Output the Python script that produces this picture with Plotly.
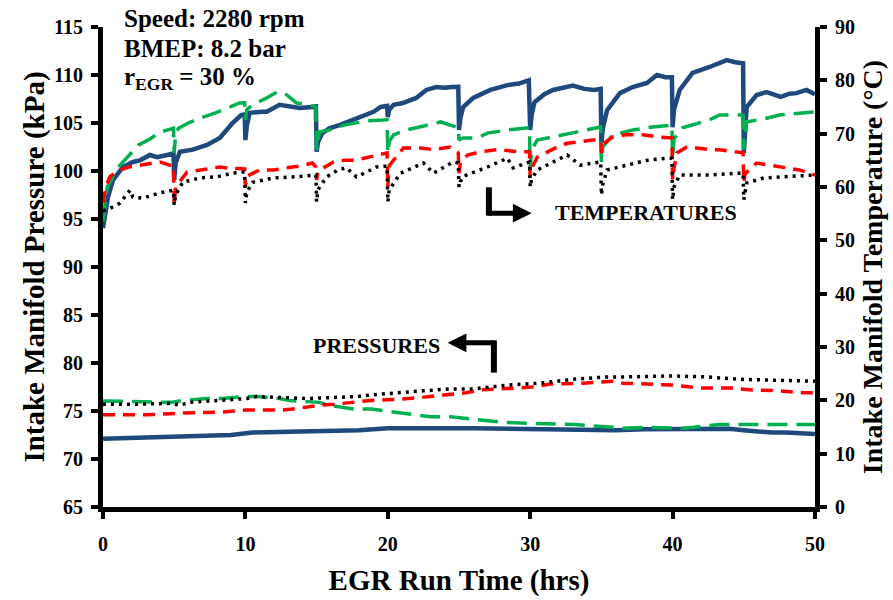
import plotly.graph_objects as go

# ---------------- data ----------------
# Temperatures (right axis, deg C)
temp_blue_x = [0, 0.1, 0.35, 0.7, 1.4, 2.1, 2.6, 3.3, 3.8, 4.5, 4.95, 5.0, 5.1, 5.4, 6.3, 7.3, 8.2, 9.1, 9.7, 9.95,
               10.0, 10.1, 10.3, 11.2, 11.5, 12.4, 13.0, 13.8, 14.7, 14.95, 15.0, 15.1, 15.4, 15.9, 16.6, 17.2, 18.0,
               19.0, 19.5, 19.95, 20.0, 20.1, 20.4, 21.0, 22.0, 22.7, 23.4, 24.0, 24.5, 24.95, 25.0, 25.1, 25.3, 26.0,
               27.2, 28.4, 29.2, 29.9, 30.0, 30.1, 30.3, 31.0, 31.6, 32.4, 33.0, 33.8, 34.5, 34.95, 35.0, 35.1, 35.4,
               36.3, 37.2, 38.2, 38.9, 39.5, 39.95, 40.0, 40.1, 40.5, 41.4, 42.6, 43.2, 43.8, 44.4, 44.95, 45.0, 45.1,
               45.2, 45.9, 46.6, 47.6, 48.2, 48.7, 49.4, 50.0]
temp_blue_y = [52.3, 54.4, 58.1, 61.3, 63.75, 64.7, 65.0, 66.0, 65.6, 66.0, 66.3, 61.3, 64.5, 66.6, 67.0, 67.9, 69.2,
               72.0, 73.5, 73.6, 68.8, 71.5, 73.9, 74.1, 74.1, 75.4, 75.1, 74.8, 75.0, 75.1, 66.6, 68.5, 70.1, 71.0,
               71.6, 72.2, 72.9, 74.1, 75.0, 75.2, 73.1, 74.5, 75.4, 75.7, 76.7, 78.2, 78.75, 78.6, 78.75, 78.8, 70.7,
               73.0, 75.0, 76.7, 78.2, 79.1, 79.4, 80.0, 70.7, 73.5, 75.9, 77.4, 78.2, 78.6, 79.0, 78.4, 78.2, 78.4,
               68.3, 71.0, 74.4, 77.6, 78.75, 79.5, 81.0, 80.6, 80.6, 71.2, 74.5, 78.2, 81.4, 82.5, 83.2, 83.8, 83.4,
               83.2, 66.4, 70.5, 75.0, 77.25, 77.8, 76.9, 77.5, 77.6, 78.2, 77.4]

temp_green_x = [0, 0.3, 1.0, 1.7, 2.5, 3.3, 4.0, 4.95, 5.0, 5.1, 5.3, 6.0, 6.8, 7.9, 8.8, 9.6, 9.95, 10.0, 10.1, 10.5,
                11.5, 12.2, 12.8, 13.6, 14.5, 14.95, 15.0, 15.1, 15.2, 15.9, 16.9, 18.6, 19.5, 19.95, 20.0, 20.1, 20.4,
                21.3, 22.0, 23.7, 24.95, 25.0, 25.1, 25.3, 26.3, 27.0, 28.4, 29.95, 30.0, 30.1, 30.5, 31.6, 32.6,
                34.95, 35.0, 35.1, 35.8, 37.2, 38.6, 39.95, 40.0, 40.1, 40.7, 42.6, 43.3, 44.95, 45.0, 45.1, 45.2,
                46.6, 47.5, 50.0]
temp_green_y = [53.5, 60.0, 63.5, 65.6, 67.9, 69.0, 70.3, 71.0, 66.4, 70.0, 71.0, 72.0, 72.9, 73.9, 74.8, 75.75, 75.8,
                72.6, 74.5, 75.4, 76.7, 77.8, 77.5, 75.75, 75.4, 75.0, 67.0, 69.0, 70.3, 70.7, 71.6, 72.4, 72.6, 72.6,
                66.4, 68.5, 69.75, 70.7, 71.1, 72.2, 71.1, 68.8, 69.0, 69.2, 69.2, 70.1, 70.7, 71.1, 63.2, 67.0, 68.8,
                69.4, 70.1, 71.25, 64.7, 67.5, 69.75, 70.7, 71.25, 71.6, 65.6, 69.0, 71.1, 72.6, 73.5, 73.5, 67.0,
                70.5, 72.2, 72.9, 73.5, 74.1]

temp_red_x = [0, 0.2, 0.5, 1.2, 1.8, 2.6, 3.3, 4.0, 4.7, 4.95, 5.0, 5.1, 5.9, 6.8, 7.5, 8.2, 8.9, 9.95, 10.0, 10.1,
              11.0, 12.0, 12.9, 13.8, 14.7, 14.95, 15.0, 15.1, 16.2, 16.9, 17.7, 18.6, 19.5, 19.95, 20.0, 20.1, 21.1,
              22.3, 23.2, 24.4, 24.95, 25.0, 25.1, 25.6, 26.5, 27.7, 29.3, 29.95, 30.0, 30.1, 30.5, 31.9, 32.6, 34.4,
              34.95, 35.0, 35.1, 35.8, 36.7, 37.9, 38.9, 39.95, 40.0, 40.1, 40.3, 41.0, 41.7, 42.6, 43.3, 44.3, 44.95,
              45.0, 45.1, 45.9, 46.8, 47.8, 48.9, 50.0]
temp_red_y = [57.0, 60.0, 62.0, 63.2, 63.75, 64.1, 64.5, 64.7, 64.1, 64.1, 56.6, 60.0, 62.8, 63.2, 63.5, 63.75, 63.5,
              63.4, 60.0, 62.0, 63.2, 63.2, 63.6, 63.9, 64.5, 63.75, 61.3, 63.0, 64.7, 65.0, 65.0, 65.6, 66.2, 66.4,
              60.0, 64.0, 67.3, 67.3, 67.0, 67.5, 66.4, 62.6, 64.5, 66.0, 66.6, 67.0, 66.6, 66.6, 62.0, 63.5, 65.6,
              67.5, 68.2, 68.8, 68.8, 66.4, 68.0, 69.4, 69.8, 69.8, 69.4, 69.2, 61.3, 63.5, 66.4, 67.5, 67.3, 67.0,
              67.0, 66.6, 66.4, 60.8, 62.5, 64.5, 64.1, 63.6, 63.2, 62.25]

temp_black_x = [0, 0.5, 1.2, 1.9, 2.1, 2.8, 4.0, 4.8, 4.95, 5.0, 5.1, 5.6, 6.8, 8.0, 9.1, 9.8, 9.95, 10.0, 10.1, 10.5,
                12.0, 13.4, 14.7, 14.95, 15.0, 15.1, 15.7, 16.5, 17.1, 17.8, 18.5, 19.2, 19.7, 19.95, 20.0, 20.1, 20.9,
                22.5, 23.2, 24.6, 24.95, 25.0, 25.1, 25.3, 27.0, 28.4, 28.8, 29.8, 29.95, 30.0, 30.1, 30.5, 31.6, 32.6,
                33.5, 34.7, 34.95, 35.0, 35.1, 35.4, 36.7, 38.2, 39.6, 39.95, 40.0, 40.1, 40.5, 42.6, 44.7, 44.95,
                45.0, 45.1, 45.2, 46.4, 48.1, 50.0]
temp_black_y = [55.5, 56.0, 57.0, 59.4, 58.1, 57.9, 58.9, 59.4, 59.4, 56.6, 58.5, 60.9, 61.7, 61.9, 62.6, 62.8, 62.8,
                57.0, 59.0, 60.9, 61.7, 61.9, 62.25, 62.25, 57.2, 59.5, 61.9, 63.2, 63.6, 61.9, 62.8, 63.75, 63.9, 63.9,
                57.2, 59.5, 62.6, 64.5, 62.6, 64.7, 64.5, 60.0, 61.0, 62.0, 63.75, 65.4, 63.6, 64.7, 64.7, 60.0, 61.5,
                63.2, 64.7, 66.0, 64.1, 64.7, 64.7, 58.5, 60.5, 63.2, 64.1, 65.0, 65.4, 65.4, 57.6, 60.0, 62.25, 62.25,
                62.6, 62.6, 57.6, 59.0, 60.75, 61.7, 62.0, 62.25]

# Pressures (left axis, kPa)
pres_blue_x = [0, 1, 3, 5, 7, 9, 10.5, 12, 14, 16, 18, 20, 22, 24, 26, 28, 30, 32, 34, 36, 38, 40, 42, 44, 45, 46, 47,
               48, 49, 50]
pres_blue_y = [72.1, 72.15, 72.2, 72.25, 72.35, 72.5, 72.75, 72.8, 72.85, 72.9, 73.0, 73.2, 73.25, 73.2, 73.2, 73.15,
               73.1, 73.15, 73.1, 73.0, 73.1, 73.1, 73.2, 73.15, 73.0, 72.85, 72.75, 72.75, 72.7, 72.6]

pres_green_x = [0, 2, 4.8, 5.6, 7.3, 8.4, 9.8, 10.8, 12.4, 13.1, 15.2, 15.9, 17.6, 18.8, 20.4, 21.3, 23.0, 24.4, 25.4,
                26.3, 28.2, 30.7, 33.1, 35.8, 36.5, 38.1, 40.7, 41.5, 43.3, 46.4, 50]
pres_green_y = [76.05, 76.0, 75.9, 76.1, 76.3, 76.3, 76.5, 76.5, 76.3, 76.1, 75.9, 75.6, 75.2, 75.2, 74.9, 74.7, 74.4,
                74.4, 74.2, 74.1, 73.8, 73.7, 73.6, 73.3, 73.2, 73.3, 73.2, 73.3, 73.6, 73.6, 73.6]

pres_red_x = [0, 3, 5.7, 8.4, 10.1, 12.6, 13.3, 14.3, 15.2, 16.2, 17.6, 18.8, 20.5, 22.3, 24.1, 25.5, 26.5, 28.4, 29.1,
              30.1, 31.4, 33.7, 35.8, 36.5, 38.1, 40.0, 42.0, 44.0, 45.6, 47.5, 49.2, 50]
pres_red_y = [74.6, 74.6, 74.8, 74.9, 75.1, 75.1, 75.2, 75.4, 75.6, 75.7, 75.9, 76.1, 76.2, 76.4, 76.7, 76.9, 77.2,
              77.3, 77.4, 77.5, 77.8, 77.9, 78.1, 77.9, 77.8, 77.7, 77.4, 77.4, 77.2, 77.1, 76.9, 76.9]

pres_black_x = [0, 2.4, 4.7, 5.4, 6.1, 10.1, 10.8, 13.1, 14.3, 17.8, 19.0, 22.5, 24.4, 26.0, 28.4, 30.7, 33.0, 35.4,
                36.5, 40.0, 42.4, 44.7, 47.0, 49.4, 50]
pres_black_y = [75.7, 75.7, 75.8, 75.6, 75.9, 76.3, 76.5, 76.4, 76.3, 76.5, 76.7, 77.1, 77.3, 77.3, 77.7, 77.9, 78.3,
                78.55, 78.55, 78.65, 78.55, 78.3, 78.2, 78.1, 78.1]

x_ticks = [0, 10, 20, 30, 40, 50]
left_ticks = [65, 70, 75, 80, 85, 90, 95, 100, 105, 110, 115]
right_ticks = [0, 10, 20, 30, 40, 50, 60, 70, 80, 90]

# ---------------- styles ----------------
BLUE = "#1F497D"
GREEN = "#00B050"
RED = "#FF0000"
BLACK = "#000000"
FONT = "Liberation Serif, Times New Roman, serif"

fig = go.Figure()


def add(x, y, color, width, dash, axis):
    fig.add_trace(go.Scatter(x=x, y=y, mode="lines", yaxis=axis, showlegend=False, hoverinfo="skip",
                             line=dict(color=color, width=width, dash=dash)))


for ax, (bx, by, gx, gy, rx, ry, kx, ky) in (
        ("y", (pres_blue_x, pres_blue_y, pres_green_x, pres_green_y, pres_red_x, pres_red_y, pres_black_x,
               pres_black_y)),
        ("y2", (temp_blue_x, temp_blue_y, temp_green_x, temp_green_y, temp_red_x, temp_red_y, temp_black_x,
                temp_black_y))):
    add(bx, by, BLUE, 4.5, "solid", ax)
    add(gx, gy, GREEN, 3.5, "20px,9px", ax)
    add(rx, ry, RED, 3.5, "12px,8px", ax)
    add(kx, ky, BLACK, 3.5, "3px,5px", ax)

axis_common = dict(showgrid=False, zeroline=False, showline=True, linecolor="black", linewidth=5,
                   ticks="outside", ticklen=7, tickwidth=4, tickcolor="black",
                   tickfont=dict(family=FONT, size=20, color="black", weight="bold"))

fig.update_layout(
    width=893, height=600,
    margin=dict(l=103, r=78, t=27, b=93),
    plot_bgcolor="white", paper_bgcolor="white",
    font=dict(family=FONT, color="black"),
    xaxis=dict(range=[0, 50], tickvals=x_ticks, ticklabelstandoff=8, automargin=False,
               title=dict(text="<b>EGR Run Time (hrs)</b>", font=dict(family=FONT, size=29), standoff=17),
               **axis_common),
    yaxis=dict(range=[65, 115], tickvals=left_ticks, automargin=False, ticklabelstandoff=4,
               title=dict(text="<b>Intake Manifold Pressure (kPa)</b>", font=dict(family=FONT, size=29),
                          standoff=1),
               **axis_common),
    yaxis2=dict(range=[0, 90], tickvals=right_ticks, overlaying="y", side="right", automargin=False,
                ticklabelstandoff=4,
                title=dict(text="<b>Intake Manifold Temperature (°C)</b>", font=dict(family=FONT, size=28),
                           standoff=10),
                **axis_common),
)

# ---------------- annotations ----------------
cond_font = dict(family=FONT, size=25, color="black")
fig.add_annotation(x=0.027, y=1.018, xref="paper", yref="paper", xanchor="left", yanchor="middle",
                   text="<b>Speed: 2280 rpm</b>", showarrow=False, font=cond_font)
fig.add_annotation(x=0.027, y=0.955, xref="paper", yref="paper", xanchor="left", yanchor="middle",
                   text="<b>BMEP: 8.2 bar</b>", showarrow=False, font=cond_font)
fig.add_annotation(x=0.027, y=0.893, xref="paper", yref="paper", xanchor="left", yanchor="middle",
                   text="<b>r<sub>EGR</sub> = 30 %</b>", showarrow=False, font=cond_font)

lab_font = dict(family=FONT, size=22, color="black")
fig.add_annotation(x=38.1, y=95.7, xref="x", yref="y", text="<b>TEMPERATURES</b>", showarrow=False,
                   font=lab_font)
fig.add_annotation(x=19.2, y=81.8, xref="x", yref="y", text="<b>PRESSURES</b>", showarrow=False,
                   font=lab_font)

# L-shaped arrows
fig.add_shape(type="line", xref="x", yref="y", x0=27.1, x1=27.1, y0=98.3, y1=95.35,
              line=dict(color="black", width=6))
fig.add_annotation(x=30.1, y=95.6, ax=26.95, ay=95.6, xref="x", yref="y", axref="x", ayref="y", text="",
                   showarrow=True, arrowhead=2, arrowsize=0.75, arrowwidth=5, arrowcolor="black")

fig.add_shape(type="line", xref="x", yref="y", x0=27.45, x1=27.45, y0=82.35, y1=79.0,
              line=dict(color="black", width=6))
fig.add_annotation(x=24.2, y=82.1, ax=27.6, ay=82.1, xref="x", yref="y", axref="x", ayref="y", text="",
                   showarrow=True, arrowhead=2, arrowsize=0.75, arrowwidth=5, arrowcolor="black")

fig.write_html("out.html", config={"displayModeBar": False},
               post_script="document.body.style.margin='0px';")
